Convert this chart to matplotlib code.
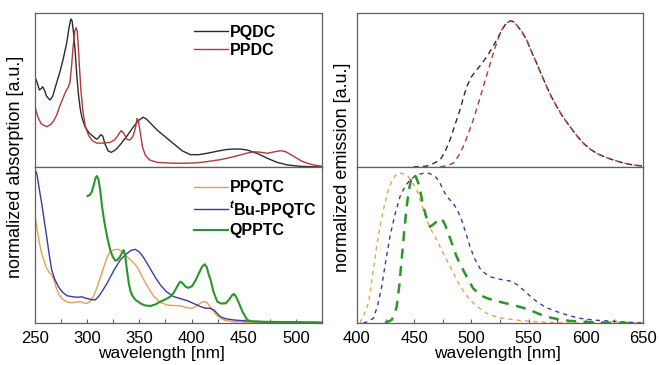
import matplotlib
matplotlib.use("Agg")
import matplotlib.pyplot as plt

# ----------------------------
# Data
# ----------------------------
# absorption, top: PQDC / PPDC
pqdc_abs_nm = [250, 252, 254.2, 256, 257.4, 259, 261, 264.4, 267, 270, 274, 277, 280.5, 282.5, 284.3, 285.5,
               287, 288.5, 290, 291.5, 293.3, 295, 298, 302, 306, 309, 311, 313, 315, 317, 320, 323, 327,
               331.7, 338, 344.5, 349, 353.5, 357, 362, 367, 375, 383, 391, 399, 407, 415, 425, 433, 440.7,
               447, 453.5, 463, 472.8, 482, 492, 505, 525]
pqdc_abs = [0.586, 0.55, 0.50, 0.51, 0.521, 0.50, 0.46, 0.435, 0.46, 0.53, 0.62, 0.70, 0.81, 0.90, 0.961, 0.95,
            0.87, 0.75, 0.60, 0.48, 0.38, 0.32, 0.26, 0.22, 0.197, 0.18, 0.19, 0.21, 0.20, 0.15, 0.105, 0.095, 0.11,
            0.145, 0.20, 0.262, 0.30, 0.323, 0.31, 0.275, 0.24, 0.195, 0.15, 0.105, 0.08, 0.08, 0.089, 0.103, 0.113, 0.117,
            0.116, 0.11, 0.088, 0.056, 0.03, 0.013, 0.004, 0.0]

ppdc_abs_nm = [250, 253, 256, 261.2, 265, 268, 270.8, 274, 277, 279.5, 282, 283.5, 285, 286.5, 288, 289.4,
               290.5, 291.5, 292.6, 294, 295.8, 298, 301.3, 305, 309.3, 315, 322, 326, 329, 332.4, 335, 338.1,
               341, 344, 346.5, 347.8, 349, 351, 353, 355.8, 360, 367, 380, 392.6, 405, 415, 428, 440.7, 452,
               459.9, 466, 472.8, 479, 485.6, 490, 498.4, 505, 511, 518, 525]
ppdc_abs = [0.392, 0.32, 0.28, 0.262, 0.275, 0.30, 0.338, 0.40, 0.45, 0.49, 0.52, 0.55, 0.65, 0.78, 0.88, 0.905,
            0.88, 0.78, 0.65, 0.50, 0.37, 0.27, 0.205, 0.17, 0.155, 0.155, 0.16, 0.175, 0.20, 0.236, 0.22, 0.18,
            0.175, 0.20, 0.26, 0.316, 0.30, 0.22, 0.13, 0.075, 0.045, 0.03, 0.025, 0.024, 0.027, 0.035, 0.048, 0.067, 0.088,
            0.099, 0.096, 0.089, 0.098, 0.106, 0.10, 0.067, 0.04, 0.024, 0.012, 0.005]

# absorption, bottom: PPQTC / tBu-PPQTC / QPPTC
ppqtc_abs_nm = [250, 252, 254, 256.4, 259, 261.2, 264, 266, 268, 270, 273, 276, 280, 284, 289, 293.3, 297, 300,
                303, 306, 309, 312.5, 316, 319, 322, 326, 330, 333, 336, 340, 344, 347.8, 351, 354, 357.4, 361,
                364, 367, 371, 376.6, 383, 389.4, 394, 399, 403, 407, 410, 412.5, 415, 418, 420, 424, 427.9, 432,
                440.7, 460, 525]
ppqtc_abs = [0.692, 0.60, 0.52, 0.447, 0.39, 0.35, 0.32, 0.308, 0.28, 0.233, 0.18, 0.155, 0.137, 0.13, 0.133, 0.137,
             0.128, 0.126, 0.14, 0.17, 0.22, 0.29, 0.36, 0.42, 0.455, 0.47, 0.472, 0.46, 0.44, 0.415, 0.39, 0.36, 0.32,
             0.28, 0.24, 0.20, 0.17, 0.15, 0.13, 0.115, 0.112, 0.11, 0.10, 0.094, 0.10, 0.12, 0.134, 0.137, 0.13, 0.10,
             0.083, 0.05, 0.03, 0.017, 0.008, 0.004, 0.002]

tbu_abs_nm = [250, 251.2, 252.2, 253.2, 254.8, 256.4, 258.8, 261.2, 263.6, 266, 269, 272.4, 276, 280.5, 287, 291,
              294.9, 298, 301.3, 304, 307.7, 311, 315, 319, 325, 331.7, 337, 342, 346.2, 350, 354, 357.4, 362, 366,
              370.2, 376, 383, 390, 395.9, 402, 408.7, 413, 418.3, 422, 425, 427.9, 432, 440.7, 455, 472.8, 500, 525]
tbu_abs = [0.96, 0.97, 0.94, 0.896, 0.83, 0.767, 0.66, 0.553, 0.44, 0.34, 0.28, 0.233, 0.20, 0.175, 0.167, 0.165,
           0.168, 0.16, 0.155, 0.15, 0.148, 0.17, 0.21, 0.254, 0.33, 0.404, 0.44, 0.465, 0.472, 0.455, 0.42, 0.383, 0.33,
           0.285, 0.244, 0.20, 0.169, 0.155, 0.143, 0.125, 0.105, 0.095, 0.094, 0.08, 0.058, 0.04, 0.028, 0.019, 0.012,
           0.008, 0.005, 0.003]

qpptc_abs_nm = [300.3, 302.5, 304.5, 306.5, 308, 309.3, 310.8, 312.5, 314, 315.7, 317.3, 319.5, 322.1, 324.5, 326.9,
                329, 331.1, 333, 334.9, 336.5, 338.1, 340, 341.5, 343, 346, 351, 355, 360.6, 365, 370.2, 375, 379.8,
                383, 386.2, 388, 389.4, 391, 394.2, 397, 400.6, 404, 407, 410, 412.5, 414.5, 416.5, 418.3, 421, 424.7,
                428, 432.7, 436, 438.5, 440.7, 442.5, 445.5, 449, 453.5, 458, 466.3, 525]
qpptc_abs = [0.814, 0.82, 0.842, 0.89, 0.93, 0.942, 0.92, 0.853, 0.76, 0.68, 0.617, 0.54, 0.468, 0.425, 0.40,
             0.405, 0.421, 0.445, 0.468, 0.43, 0.34, 0.25, 0.205, 0.179, 0.15, 0.126, 0.113, 0.109, 0.118, 0.137,
             0.152, 0.169, 0.195, 0.233, 0.255, 0.265, 0.258, 0.233, 0.225, 0.237, 0.275, 0.318, 0.36, 0.376, 0.36,
             0.31, 0.276, 0.20, 0.137, 0.125, 0.126, 0.15, 0.175, 0.186, 0.17, 0.126, 0.07, 0.019, 0.01, 0.008, 0.003]

# emission, top: PQDC / PPDC
pqdc_em_nm = [449.2, 455, 460.9, 466, 472.6, 477, 481.3, 485.5, 490, 493, 495.9, 500, 504.6, 509, 513.4, 518,
              522.1, 526, 529.4, 532, 535.2, 537.5, 539.6, 544, 548.3, 552.5, 557.1, 561.5, 565.8, 570, 574.6,
              580, 586.2, 592, 597.9, 603.5, 609.5, 616.5, 624.1, 631, 638.6, 644, 650]
pqdc_em = [0.0, 0.002, 0.006, 0.02, 0.045, 0.10, 0.175, 0.27, 0.37, 0.45, 0.521, 0.585, 0.63, 0.67, 0.716, 0.77,
           0.825, 0.88, 0.922, 0.943, 0.948, 0.94, 0.922, 0.88, 0.825, 0.75, 0.673, 0.595, 0.521, 0.455, 0.392,
           0.325, 0.262, 0.205, 0.154, 0.118, 0.089, 0.065, 0.045, 0.03, 0.017, 0.011, 0.006]

ppdc_em_nm = [472.6, 478, 484.2, 488.5, 492.9, 497, 501.6, 506, 510.4, 514.8, 519.1, 523, 526.5, 530, 533.7,
              536.5, 539.6, 544, 548.3, 552.5, 557.1, 561.5, 565.8, 570, 574.6, 580, 586.2, 592, 597.9, 603.5,
              609.5, 616.5, 624.1, 631, 638.6, 644, 650]
ppdc_em = [0.0, 0.008, 0.024, 0.07, 0.132, 0.21, 0.305, 0.41, 0.521, 0.63, 0.738, 0.825, 0.89, 0.93, 0.948,
           0.945, 0.922, 0.88, 0.825, 0.75, 0.673, 0.595, 0.521, 0.455, 0.392, 0.325, 0.262, 0.205, 0.154, 0.118,
           0.089, 0.065, 0.045, 0.03, 0.017, 0.011, 0.006]

# emission, bottom: PPQTC / tBu-PPQTC / QPPTC
ppqtc_em_nm = [402.6, 406, 409.9, 412, 414.3, 417, 420.1, 423.5, 427.4, 431, 434.7, 437, 439, 442, 444.9, 448.5,
               452.2, 456.5, 460.9, 465, 469.7, 474, 478.4, 483, 487.1, 493, 498.8, 506, 513.4, 520, 527.9, 540,
               551.2, 565, 580.3, 650]
ppqtc_em = [0.0, 0.05, 0.126, 0.22, 0.34, 0.48, 0.617, 0.74, 0.853, 0.92, 0.955, 0.962, 0.96, 0.952, 0.938, 0.90,
            0.853, 0.76, 0.66, 0.595, 0.532, 0.468, 0.404, 0.34, 0.276, 0.205, 0.147, 0.10, 0.062, 0.043, 0.03, 0.018,
            0.011, 0.005, 0.0, 0.0]

tbu_em_nm = [405.5, 410, 414.3, 418, 421.6, 425, 428.8, 433, 437.6, 442, 446.3, 451, 455.1, 458.5, 462.3, 466,
             469.7, 473, 476.9, 480.5, 484.2, 488, 491.5, 495, 498.8, 503, 507.5, 512, 516.2, 522, 527.9, 531.5,
             535.2, 540, 545.4, 551, 557.1, 565, 574.6, 585, 595, 608, 624.1, 637, 650]
tbu_em = [0.0, 0.01, 0.03, 0.11, 0.233, 0.39, 0.553, 0.69, 0.81, 0.875, 0.917, 0.942, 0.955, 0.96, 0.96, 0.95,
          0.93, 0.89, 0.831, 0.795, 0.767, 0.72, 0.66, 0.58, 0.489, 0.41, 0.35, 0.318, 0.297, 0.285, 0.276, 0.272,
          0.267, 0.245, 0.212, 0.175, 0.137, 0.10, 0.073, 0.048, 0.03, 0.018, 0.011, 0.005, 0.0]

qpptc_em_nm = [424.5, 430.3, 432.5, 434.7, 437, 439, 441.2, 443.4, 445.6, 447.8, 449.8, 451.7, 453.6, 456, 458,
               461, 463.8, 466.8, 469.7, 472, 474, 477, 479.8, 483.5, 487.1, 490.7, 494.4, 498, 501.6, 506, 510.4,
               516, 522.1, 529, 536.6, 544, 551.2, 558.5, 565.8, 575, 586.2, 598, 609.5, 624, 638.6]
qpptc_em = [0.0, 0.019, 0.05, 0.105, 0.24, 0.404, 0.58, 0.746, 0.86, 0.938, 0.955, 0.935, 0.896, 0.82, 0.746,
            0.67, 0.617, 0.632, 0.65, 0.662, 0.671, 0.63, 0.575, 0.50, 0.425, 0.37, 0.318, 0.268, 0.222, 0.19, 0.169,
            0.153, 0.141, 0.128, 0.115, 0.10, 0.083, 0.06, 0.04, 0.025, 0.013, 0.007, 0.004, 0.001, 0.0]

C_BLACK = "#2b2b2b"
C_RED = "#b5383a"
C_ORANGE = "#e8a050"
C_BLUE = "#3a3aa8"
C_GREEN = "#2a962a"
FRAME = "#606060"

plt.rcParams["font.family"] = "Liberation Sans"
plt.rcParams["font.size"] = 12
plt.rcParams["mathtext.fontset"] = "custom"
plt.rcParams["mathtext.rm"] = "Liberation Sans:bold"
plt.rcParams["mathtext.it"] = "Liberation Sans:italic:bold"

fig = plt.figure(figsize=(6.59, 3.65), dpi=100)

ax_lt = fig.add_axes([0.0531, 0.5425, 0.4355, 0.4219])
ax_lb = fig.add_axes([0.0531, 0.1151, 0.4355, 0.4274])
ax_rt = fig.add_axes([0.5417, 0.5425, 0.4340, 0.4219])
ax_rb = fig.add_axes([0.5417, 0.1151, 0.4340, 0.4274])

ax_lt.plot(pqdc_abs_nm, pqdc_abs, color=C_BLACK, lw=1.0, label="PQDC")
ax_lt.plot(ppdc_abs_nm, ppdc_abs, color=C_RED, lw=1.0, label="PPDC")

ax_lb.plot(ppqtc_abs_nm, ppqtc_abs, color=C_ORANGE, lw=1.0, label="PPQTC")
ax_lb.plot(tbu_abs_nm, tbu_abs, color=C_BLUE, lw=1.0, label=r"$^{\mathit{t}}$Bu-PPQTC")
ax_lb.plot(qpptc_abs_nm, qpptc_abs, color=C_GREEN, lw=1.5, label="QPPTC")

ax_rt.plot(pqdc_em_nm, pqdc_em, color=C_BLACK, lw=1.0, dashes=(4, 3))
ax_rt.plot(ppdc_em_nm, ppdc_em, color=C_RED, lw=1.0, dashes=(4, 3))

ax_rb.plot(ppqtc_em_nm, ppqtc_em, color=C_ORANGE, lw=1.0, dashes=(3, 3))
ax_rb.plot(tbu_em_nm, tbu_em, color=C_BLUE, lw=1.0, dashes=(3, 3))
ax_rb.plot(qpptc_em_nm, qpptc_em, color=C_GREEN, lw=1.8, dashes=(4, 3))

for ax in (ax_lt, ax_lb):
    ax.set_xlim(250, 525)
    ax.set_xticks([250, 300, 350, 400, 450, 500])
    ax.set_xticks([275, 325, 375, 425, 475, 525], minor=True)
for ax in (ax_rt, ax_rb):
    ax.set_xlim(400, 650)
    ax.set_xticks([400, 450, 500, 550, 600, 650])
    ax.set_xticks([425, 475, 525, 575, 625], minor=True)

for ax in (ax_lt, ax_lb, ax_rt, ax_rb):
    ax.set_ylim(0, 1)
    ax.set_yticks([])
    for s in ax.spines.values():
        s.set_color(FRAME)
        s.set_linewidth(0.9)
    ax.tick_params(axis="x", which="both", direction="in", length=3, width=0.8, color=FRAME)

for ax in (ax_lt, ax_rt):
    ax.tick_params(axis="x", which="both", labelbottom=False, length=0)

for ax in (ax_lb, ax_rb):
    ax.set_xlabel("wavelength [nm]", fontsize=12.5, labelpad=0)
    ax.tick_params(axis="x", which="major", pad=5.5)
ax_lb.xaxis.set_label_coords(0.439, -0.148)
ax_rb.xaxis.set_label_coords(0.49, -0.148)

leg_kw = dict(frameon=False, handlelength=2.1, handletextpad=0.1, borderpad=0,
              borderaxespad=0, loc="upper left", prop={"weight": "bold", "size": 11.5})
ax_lt.legend(bbox_to_anchor=(0.555, 0.925), labelspacing=0.2, **leg_kw)
ax_lb.legend(bbox_to_anchor=(0.555, 0.915), labelspacing=0.22, **leg_kw)

fig.text(0.024, 1 - 167 / 365, "normalized absorption [a.u.]", rotation=90, ha="center", va="center", fontsize=13)
fig.text(0.519, 1 - 167 / 365, "normalized emission [a.u.]", rotation=90, ha="center", va="center", fontsize=13)

fig.savefig("out.png", dpi=100)
